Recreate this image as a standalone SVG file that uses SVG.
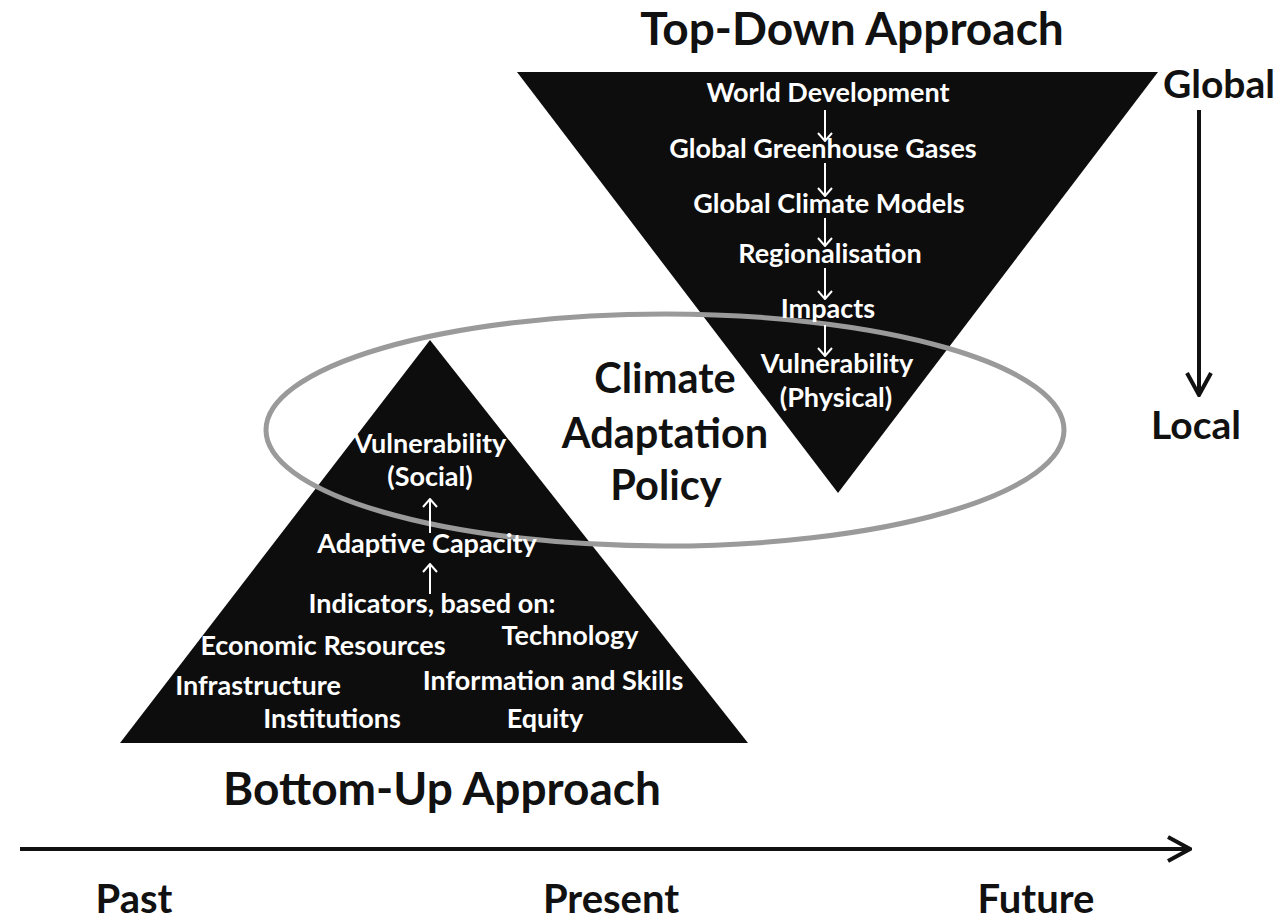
<svg xmlns="http://www.w3.org/2000/svg" width="1286" height="922" viewBox="0 0 1286 922">
<defs>
<style>
text{font-family:Lato,"Open Sans","Liberation Sans",sans-serif;font-weight:700;text-anchor:middle}
.w{fill:#fff;font-size:27px}
.k{fill:#111}
.big{font-size:46px}
.mid{font-size:41.5px}
.tl{font-size:40px}
.gl{font-size:39px}
.wl{stroke:#fff;stroke-width:2;fill:none}
.kl{stroke:#111;stroke-width:4;fill:none}
</style>
<marker id="wh" viewBox="0 0 10 16" refX="9" refY="8" markerWidth="10" markerHeight="16" markerUnits="userSpaceOnUse" orient="auto">
<path d="M1,1 L9,8 L1,15" fill="none" stroke="#fff" stroke-width="2"/>
</marker>
<marker id="kh" viewBox="0 0 26 28" refX="24" refY="14" markerWidth="26" markerHeight="28" markerUnits="userSpaceOnUse" orient="auto">
<path d="M2,2 L24,14 L2,26" fill="none" stroke="#111" stroke-width="4"/>
</marker>
</defs>
<rect width="1286" height="922" fill="#fff"/>

<g id="top-triangle">
<polygon points="517,72 1158,72 838,493" fill="#0d0d0d"/>
</g>
<g id="bottom-triangle">
<polygon points="430,340 748,743 120,743" fill="#0d0d0d"/>
</g>
<g id="policy-ellipse">
<ellipse cx="665" cy="430" rx="399" ry="116" fill="none" stroke="#9a9a9a" stroke-width="5"/>
<text class="k mid" x="665" y="393">Climate</text>
<text class="k mid" x="665" y="448">Adaptation</text>
<text class="k mid" x="666" y="500">Policy</text>
</g>

<g id="connectors">
<line class="wl" x1="825" y1="110" x2="825" y2="141" marker-end="url(#wh)"/>
<line class="wl" x1="825" y1="163" x2="825" y2="196" marker-end="url(#wh)"/>
<line class="wl" x1="825" y1="218" x2="825" y2="246" marker-end="url(#wh)"/>
<line class="wl" x1="825" y1="268" x2="825" y2="299" marker-end="url(#wh)"/>
<line class="wl" x1="825" y1="325" x2="825" y2="356" marker-end="url(#wh)"/>
<line class="wl" x1="430" y1="533" x2="430" y2="499" marker-end="url(#wh)"/>
<line class="wl" x1="430" y1="594" x2="430" y2="564" marker-end="url(#wh)"/>
<line class="kl" x1="1199" y1="110" x2="1199" y2="395" marker-end="url(#kh)"/>
<line class="kl" x1="20" y1="849" x2="1190" y2="849" marker-end="url(#kh)"/>
</g>

<g id="top-labels">
<text class="k big" x="852" y="45">Top-Down Approach</text>
<text class="w" x="828" y="102">World Development</text>
<text class="w" x="823" y="158">Global Greenhouse Gases</text>
<text class="w" x="829" y="213">Global Climate Models</text>
<text class="w" x="830" y="263">Regionalisation</text>
<text class="w" x="828" y="318">Impacts</text>
<text class="w" x="837" y="373">Vulnerability</text>
<text class="w" x="836" y="407">(Physical)</text>
</g>

<g id="bottom-labels">
<text class="w" x="430" y="453">Vulnerability</text>
<text class="w" x="430" y="486">(Social)</text>
<text class="w" x="427" y="553">Adaptive Capacity</text>
<text class="w" x="432" y="613">Indicators, based on:</text>
<text class="w" x="323" y="655">Economic Resources</text>
<text class="w" x="570" y="645">Technology</text>
<text class="w" x="258" y="695">Infrastructure</text>
<text class="w" x="553" y="690">Information and Skills</text>
<text class="w" x="332" y="728">Institutions</text>
<text class="w" x="545" y="728">Equity</text>
<text class="k big" x="442" y="805">Bottom-Up Approach</text>
</g>

<g id="scale-labels">
<text class="k gl" x="1219" y="98">Global</text>
<text class="k gl" x="1196" y="439">Local</text>
<text class="k tl" x="134" y="913">Past</text>
<text class="k tl" x="611" y="913">Present</text>
<text class="k tl" x="1036" y="913">Future</text>
</g>
</svg>
